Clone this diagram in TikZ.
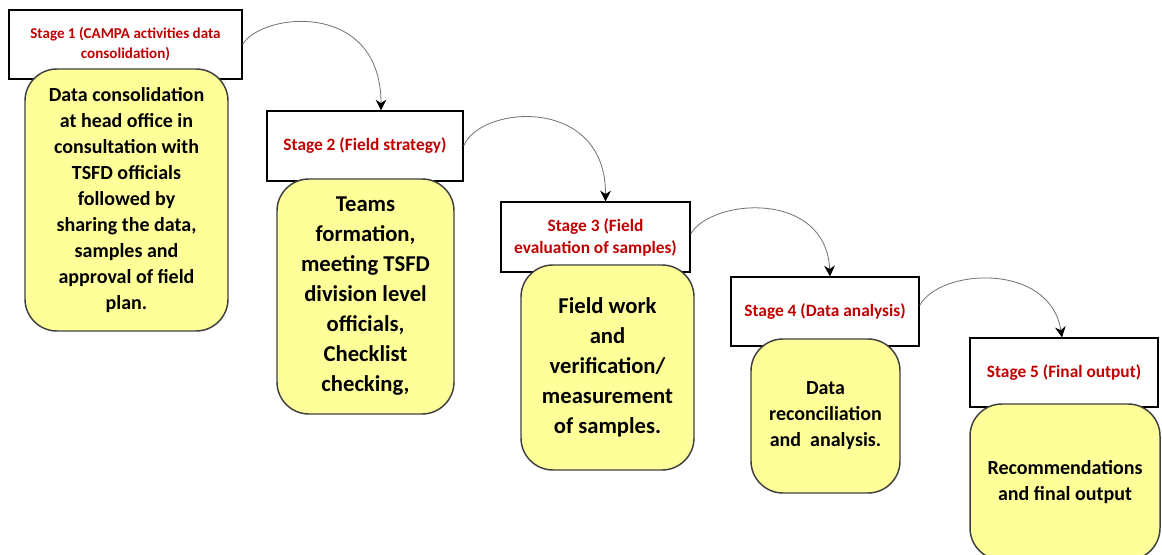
\documentclass[tikz,border=0pt]{standalone}
\usepackage{fontspec}
\setmainfont{Carlito}
\usetikzlibrary{arrows.meta,calc}
\definecolor{stagered}{HTML}{C00000}
\definecolor{boxyellow}{HTML}{FFFF99}
\definecolor{boxedge}{HTML}{3F3F3F}
\definecolor{flowgray}{HTML}{707070}
\begin{document}
\begin{tikzpicture}[x=0.75pt,y=-0.75pt,
 stagebox/.style={draw=black,line width=0.9pt,fill=white,inner sep=0pt,align=center,text=stagered,font=\bfseries\fontsize{13}{16.5}\selectfont},
 notebox/.style={draw=boxedge,line width=1.1pt,fill=boxyellow,rounded corners=24pt,inner sep=0pt,align=center},
 flow/.style={draw=flowgray,line width=0.6pt,-{Stealth[length=8pt,width=8pt,inset=2.5pt,black]}}]
\useasboundingbox (0,0) rectangle (1162,555);
\fill[white] (0,0) rectangle (1162,555);
% stage headers
\node[stagebox,minimum width=174.75pt,minimum height=51.75pt,font=\bfseries\fontsize{11.3}{15}\selectfont] (s1) at (125.5,44.5) {Stage 1 (CAMPA activities data\\consolidation)};
\node[stagebox,minimum width=147pt,minimum height=52.5pt] (s2) at (365,146) {Stage 2 (Field strategy)};
\node[stagebox,minimum width=141.75pt,minimum height=52.5pt] (s3) at (595.5,237) {Stage 3 (Field\\evaluation of samples)};
\node[stagebox,minimum width=141pt,minimum height=51.75pt] (s4) at (825,311.5) {Stage 4 (Data analysis)};
\node[stagebox,minimum width=141pt,minimum height=51.75pt] (s5) at (1064,372.5) {Stage 5 (Final output)};
% yellow detail boxes
\node[notebox,minimum width=152.25pt,minimum height=196.5pt,font=\bfseries\fontsize{15}{19.5}\selectfont] (y1) at (126.5,200) {Data consolidation\\at head office in\\consultation with\\TSFD officials\\followed by\\sharing the data,\\samples and\\approval of field\\plan.};
\node[notebox,minimum width=132.75pt,minimum height=176.25pt,font=\bfseries\fontsize{17}{22.5}\selectfont] (y2) at (365.5,296.5) {Teams\\formation,\\meeting TSFD\\division level\\officials,\\Checklist\\checking,};
\node[notebox,minimum width=129.75pt,minimum height=153.75pt,font=\bfseries\fontsize{17}{22.5}\selectfont] (y3) at (607.5,367.5) {Field work\\and\\verification/\\measurement\\of samples.};
\node[notebox,minimum width=111.75pt,minimum height=115.5pt,font=\bfseries\fontsize{15}{19.5}\selectfont] (y4) at (825.5,416) {Data\\reconciliation\\and~ analysis.};
\node[notebox,minimum width=142.5pt,minimum height=117pt,font=\bfseries\fontsize{15}{20}\selectfont] (y5) at (1065,482) {Recommendations\\and final output};
% connectors
\draw[flow] (s1.east) .. controls (262,12) and (381,0) .. ($(s2.north)+(16,0)$);
\draw[flow] (s2.east) .. controls (480,105) and (606,95) .. ($(s3.north)+(10,0)$);
\draw[flow] ($(s3.east)+(0,-3)$) .. controls (712,198) and (826,190) .. ($(s4.north)+(5,0)$);
\draw[flow] ($(s4.east)+(0,-6)$) .. controls (940,268) and (1050,262) .. ($(s5.north)+(-2,0)$);
\end{tikzpicture}
\end{document}
